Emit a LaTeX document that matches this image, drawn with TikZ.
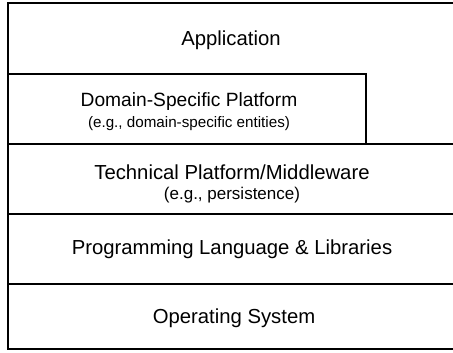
\documentclass[tikz,border=0pt]{standalone}
\usepackage{fontspec}
\setmainfont{Liberation Sans}
\begin{document}
\begin{tikzpicture}[x=1pt,y=-1pt,
  layer/.style={line width=2pt},
  title/.style={font=\fontsize{20.3}{24}\selectfont, inner sep=0pt},
  smalltitle/.style={font=\fontsize{19.2}{23}\selectfont, inner sep=0pt},
  sub/.style={font=\fontsize{17}{20}\selectfont, inner sep=0pt},
  smallsub/.style={font=\fontsize{15.2}{18}\selectfont, inner sep=0pt}]
\useasboundingbox (0,0) rectangle (453,353);
% frame lines
\draw[layer] (457,3) -- (8,3) -- (8,349) -- (457,349);
\draw[layer] (8,74) -- (366,74) -- (366,144);
\draw[layer] (8,144) -- (457,144);
\draw[layer] (8,214) -- (457,214);
\draw[layer] (8,284) -- (457,284);
% texts
\node[title] (app) at (231,40) {Application};
\node[smalltitle] (dom) at (189,102) {Domain-Specific Platform};
\node[smallsub] (domsub) at (189,124) {(e.g., domain-specific entities)};
\node[title] (tech) at (232,172) {Technical Platform/Middleware};
\node[sub] (techsub) at (232,195) {(e.g., persistence)};
\node[title] (prog) at (232,249) {Programming Language \& Libraries};
\node[title] (os) at (234,318) {Operating System};
\end{tikzpicture}
\end{document}
